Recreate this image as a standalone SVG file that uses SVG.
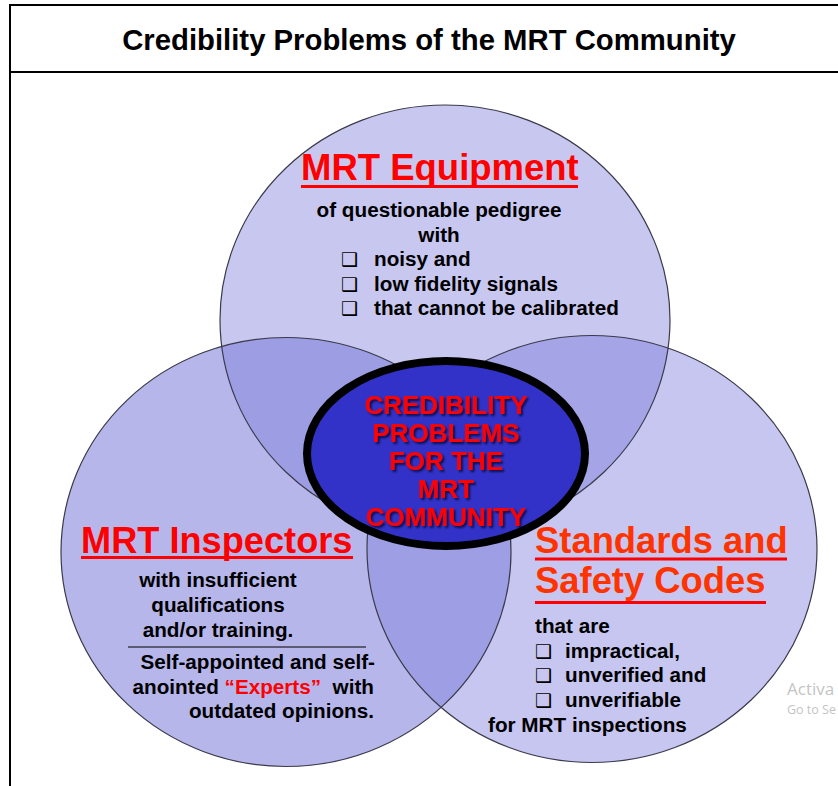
<svg xmlns="http://www.w3.org/2000/svg" width="838" height="786" viewBox="0 0 838 786">
<style>
  .frame { stroke: #000; stroke-width: 2; fill: none; }
  .title { font-family: "Liberation Sans", Arial, sans-serif; font-weight: bold; font-size: 29.3px; fill: #000; }
  .head { font-family: "Liberation Sans", Arial, sans-serif; font-weight: bold; fill: #ff0000; }
  .body { font-family: "Liberation Sans", Arial, sans-serif; font-weight: bold; font-size: 20.7px; fill: #000; }
  .bul { font-family: "DejaVu Sans", sans-serif; font-weight: bold; font-size: 19px; fill: #000; }
  .outline { fill: none; stroke: #3a3a4a; stroke-width: 1.2; }
  .center-t { font-family: "Liberation Sans", Arial, sans-serif; font-weight: bold; font-size: 26px; fill: #ff0000; text-anchor: middle; }
  .wm { font-family: "Open Sans", "Noto Sans", sans-serif; fill: #c4c4c4; }
</style>
<defs>
  <ellipse id="eTop" cx="445" cy="320" rx="225" ry="215"/>
  <ellipse id="eLeft" cx="286" cy="552" rx="225" ry="214.5"/>
  <ellipse id="eRight" cx="592" cy="549" rx="225" ry="213.5"/>
  <clipPath id="cTop"><use href="#eTop"/></clipPath>
  <clipPath id="cLeft"><use href="#eLeft"/></clipPath>
  <clipPath id="cRight"><use href="#eRight"/></clipPath>
  <filter id="shadow" x="-10%" y="-20%" width="120%" height="140%">
    <feDropShadow dx="2" dy="2" stdDeviation="0.8" flood-color="#000020" flood-opacity="0.75"/>
  </filter>
</defs>

<rect x="0" y="0" width="838" height="786" fill="#fff"/>

<g id="frame">
  <line class="frame" x1="10" y1="5" x2="838" y2="5"/>
  <line class="frame" x1="10" y1="72" x2="838" y2="72"/>
  <line class="frame" x1="10" y1="4" x2="10" y2="786"/>
</g>

<g id="title">
  <text class="title" x="429" y="50" text-anchor="middle">Credibility Problems of the MRT Community</text>
</g>

<g id="circle-fills">
  <use href="#eTop" fill="#c7c7f0"/>
  <use href="#eLeft" fill="#b6b6eb"/>
  <use href="#eRight" fill="#c6c6f0"/>
</g>

<g id="overlaps">
  <g clip-path="url(#cTop)"><use href="#eLeft" fill="#9d9de4"/></g>
  <g clip-path="url(#cTop)"><use href="#eRight" fill="#a4a4e6"/></g>
  <g clip-path="url(#cLeft)"><use href="#eRight" fill="#9e9ee4"/></g>
  <g clip-path="url(#cTop)"><g clip-path="url(#cLeft)"><use href="#eRight" fill="#8a8ade"/></g></g>
</g>

<g id="outlines">
  <use href="#eTop" class="outline"/>
  <use href="#eLeft" class="outline"/>
  <use href="#eRight" class="outline"/>
</g>

<g id="connectors"></g>

<g id="node-equipment">
  <text class="head" x="301" y="180" font-size="36.5">MRT Equipment</text>
  <rect x="301" y="185" width="277" height="3" fill="#ff0000"/>
  <text class="body" x="439" y="217" text-anchor="middle">of questionable pedigree</text>
  <text class="body" x="439" y="242" text-anchor="middle">with</text>
  <text class="bul" x="341" y="266">❑</text>
  <text class="body" x="374" y="266">noisy and</text>
  <text class="bul" x="341" y="291">❑</text>
  <text class="body" x="374" y="291">low fidelity signals</text>
  <text class="bul" x="341" y="315">❑</text>
  <text class="body" x="374" y="315">that cannot be calibrated</text>
</g>

<g id="node-inspectors">
  <text class="head" x="81" y="552.5" font-size="36.2">MRT Inspectors</text>
  <rect x="81" y="556" width="272" height="3" fill="#ff0000"/>
  <text class="body" x="218" y="587" text-anchor="middle">with insufficient</text>
  <text class="body" x="218" y="612" text-anchor="middle">qualifications</text>
  <text class="body" x="218" y="637" text-anchor="middle">and/or training.</text>
  <line x1="128" y1="647" x2="366" y2="647" stroke="#000" stroke-width="1"/>
  <text class="body" x="375" y="669" text-anchor="end">Self-appointed and self-</text>
  <text class="body" x="374" y="694" text-anchor="end" xml:space="preserve">anointed <tspan fill="#ff0000">“Experts”</tspan>  with</text>
  <text class="body" x="374" y="718" text-anchor="end">outdated opinions.</text>
</g>

<g id="node-standards">
  <text class="head" x="535" y="553" font-size="36.4" style="fill:#ff3300">Standards and</text>
  <rect x="535" y="557.5" width="252" height="3" fill="#ff0000"/>
  <text class="head" x="535" y="593" font-size="36.4" style="fill:#ff3300">Safety Codes</text>
  <rect x="535" y="601" width="231" height="3" fill="#ff0000"/>
  <text class="body" x="535" y="633">that are</text>
  <text class="bul" x="535" y="658">❑</text>
  <text class="body" x="565" y="658">impractical,</text>
  <text class="bul" x="535" y="682">❑</text>
  <text class="body" x="565" y="682">unverified and</text>
  <text class="bul" x="535" y="707">❑</text>
  <text class="body" x="565" y="707">unverifiable</text>
  <text class="body" x="488" y="732">for MRT inspections</text>
</g>

<g id="node-center">
  <ellipse cx="446" cy="453.5" rx="139" ry="92.5" fill="#3232c8" stroke="#000" stroke-width="8"/>
  <g filter="url(#shadow)">
    <text class="center-t" x="446" y="414">CREDIBILITY</text>
    <text class="center-t" x="446" y="442">PROBLEMS</text>
    <text class="center-t" x="446" y="470">FOR THE</text>
    <text class="center-t" x="446" y="498">MRT</text>
    <text class="center-t" x="446" y="526">COMMUNITY</text>
  </g>
</g>

<g id="watermark">
  <text class="wm" x="787" y="695" font-size="17">Activa</text>
  <text class="wm" x="787" y="714" font-size="12.5">Go to Se</text>
</g>
</svg>
